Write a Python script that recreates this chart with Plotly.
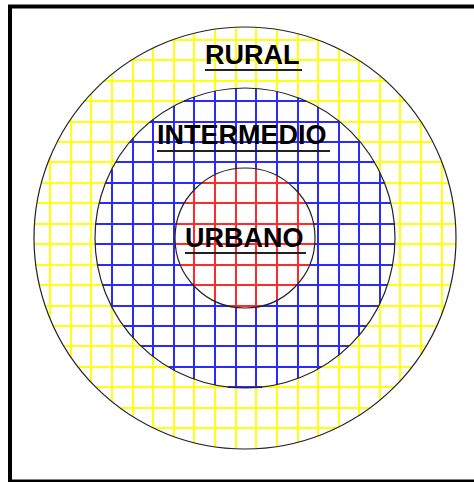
import numpy as np
import plotly.graph_objects as go

# ---- data ----
zones = ["URBANO", "INTERMEDIO", "RURAL"]          # inner -> outer
radii = [70, 150, 211]                              # ring outer radii (px units)
grid_colors = ["#ff2a2a", "#2a2aff", "#ffff10"]

# ---- layout constants ----
W, H = 474, 482
cx, cy = 245.0, 238.0
step_x, step_y = 20.6, 20.45
off_x, off_y = 235.7, 244.2
label_x = [244.5, 242.0, 252.5]
label_y = [238.0, 135.0, 55.0]        # cap-height centre
underline_y = [253.0, 151.0, 70.0]
underline_x = [(185, 306), (157, 330), (205, 302)]

fig = go.Figure()

# snap grid lines to whole pixels so they render crisp
xs_grid = np.round(off_x + step_x * np.arange(-12, 13))
ys_grid = np.round(off_y + step_y * np.arange(-12, 13))

for i, (name, R, col) in enumerate(zip(zones, radii, grid_colors)):
    r_in = radii[i - 1] if i > 0 else 0.0
    px, py = [], []
    # vertical lines
    for x in xs_grid:
        d = x - cx
        if abs(d) >= R:
            continue
        ho = np.sqrt(R * R - d * d)
        if abs(d) < r_in:
            hi = np.sqrt(r_in * r_in - d * d)
            segs = [(cy - ho, cy - hi), (cy + hi, cy + ho)]
        else:
            segs = [(cy - ho, cy + ho)]
        for a, b in segs:
            px += [float(x), float(x), None]
            py += [float(a), float(b), None]
    # horizontal lines
    for y in ys_grid:
        d = y - cy
        if abs(d) >= R:
            continue
        ho = np.sqrt(R * R - d * d)
        if abs(d) < r_in:
            hi = np.sqrt(r_in * r_in - d * d)
            segs = [(cx - ho, cx - hi), (cx + hi, cx + ho)]
        else:
            segs = [(cx - ho, cx + ho)]
        for a, b in segs:
            px += [float(a), float(b), None]
            py += [float(y), float(y), None]
    fig.add_trace(go.Scatter(x=px, y=py, mode="lines",
                             line=dict(color=col, width=2),
                             hoverinfo="skip", showlegend=False, name=name))

shapes = []
for R in radii:
    shapes.append(dict(type="circle", xref="x", yref="y",
                       x0=cx - R, x1=cx + R, y0=cy - R, y1=cy + R,
                       line=dict(color="#222222", width=1.2)))
for (x0, x1), y in zip(underline_x, underline_y):
    shapes.append(dict(type="line", xref="x", yref="y", x0=x0, x1=x1, y0=y, y1=y,
                       line=dict(color="#222222", width=2)))
# frame
shapes.append(dict(type="rect", xref="x", yref="y", x0=10, x1=480, y0=6.5, y1=481.5,
                   line=dict(color="black", width=4)))

annotations = []
for name, x, y in zip(zones, label_x, label_y):
    annotations.append(dict(x=x, y=y, xref="x", yref="y", text=f"<b>{name}</b>",
                            showarrow=False, xanchor="center", yanchor="middle",
                            font=dict(family="Liberation Sans, Arial", size=27, color="black")))

fig.update_layout(
    width=W, height=H, autosize=False,
    margin=dict(l=0, r=0, t=0, b=0),
    paper_bgcolor="white", plot_bgcolor="white",
    xaxis=dict(range=[0, W], visible=False, fixedrange=True),
    yaxis=dict(range=[H, 0], visible=False, fixedrange=True),
    shapes=shapes, annotations=annotations,
    showlegend=False,
)

fig.write_html("out.html", config={"displayModeBar": False},
               post_script="document.body.style.margin='0';document.body.style.overflow='hidden';")
